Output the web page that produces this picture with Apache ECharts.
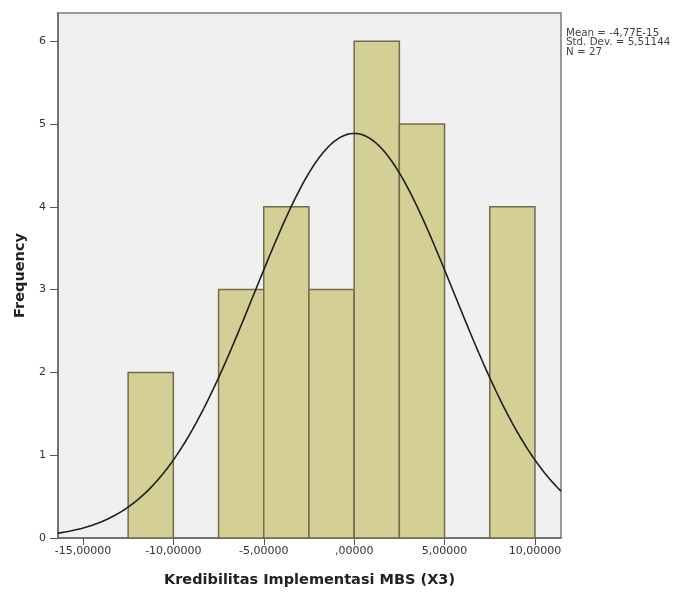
<!DOCTYPE html>
<html><head><meta charset="utf-8">
<script src="https://cdn.jsdelivr.net/npm/echarts@6/dist/echarts.min.js"></script>
<style>html,body{margin:0;padding:0;background:#fff}#c{width:684px;height:596px}</style>
</head><body><div id="c"></div>
<script>
// Histogram bins (lower edge) and their frequencies
const binStarts = [-12.5, -7.5, -5, -2.5, 0, 2.5, 7.5];
const binWidth = 2.5;
const frequencies = [2, 3, 4, 3, 6, 5, 4];
// Axis ticks
const xTickValues = [-15, -10, -5, 0, 5, 10];
const xTickLabels = ['-15,00000', '-10,00000', '-5,00000', ',00000', '5,00000', '10,00000'];
const yTickValues = [0, 1, 2, 3, 4, 5, 6];
// Summary statistics shown in the chart
const statMean = -4.77e-15;
const statSD = 5.51144;
const statN = 27;
const statLines = ['Mean = -4,77E-15', 'Std. Dev. = 5,51144', 'N = 27'];

const X_MIN = -16.38, X_MAX = 11.44, Y_MAX = 6.34;

const barData = binStarts.map((s, i) => [s, s + binWidth, frequencies[i]]);

// Fitted normal curve from the displayed mean / SD / N
const curve = [];
for (let k = 0; k <= 300; k++) {
  const x = X_MIN + (X_MAX - X_MIN) * k / 300;
  const z = (x - statMean) / statSD;
  curve.push([x, statN * binWidth * Math.exp(-0.5 * z * z) / (statSD * Math.sqrt(2 * Math.PI))]);
}

const chart = echarts.init(document.getElementById('c'), null, {renderer: 'canvas'});
const tickFont = {fontFamily: 'DejaVu Sans', fontSize: 11, color: '#333'};
chart.setOption({
  animation: false,
  backgroundColor: '#ffffff',
  grid: {left: 58, right: 123, top: 13, bottom: 58, show: true,
    backgroundColor: '#f0f0f0', borderColor: '#7a7a7a', borderWidth: 1.5},
  xAxis: {
    type: 'value', min: X_MIN, max: X_MAX,
    name: 'Kredibilitas Implementasi MBS (X3)', nameLocation: 'middle', nameGap: 35,
    nameTextStyle: {fontFamily: 'DejaVu Sans', fontWeight: 'bold', fontSize: 14.5, color: '#222'},
    axisLine: {show: true, onZero: false, lineStyle: {color: '#666', width: 1.5}},
    axisTick: {show: true, customValues: xTickValues, length: 7, lineStyle: {color: '#555'}},
    axisLabel: {customValues: xTickValues, margin: 8, ...tickFont,
      formatter: v => xTickLabels[xTickValues.indexOf(v)]},
    splitLine: {show: false}
  },
  yAxis: {
    type: 'value', min: 0, max: Y_MAX,
    name: 'Frequency', nameLocation: 'middle', nameGap: 30, nameRotate: 90,
    nameTextStyle: {fontFamily: 'DejaVu Sans', fontWeight: 'bold', fontSize: 14.5, color: '#222'},
    axisLine: {show: true, onZero: false, lineStyle: {color: '#666', width: 1.5}},
    axisTick: {show: true, customValues: yTickValues, length: 8, lineStyle: {color: '#555'}},
    axisLabel: {customValues: yTickValues, margin: 12, ...tickFont},
    splitLine: {show: false}
  },
  series: [
    {
      type: 'custom',
      data: barData,
      encode: {x: [0, 1], y: 2},
      renderItem: (params, api) => {
        const p0 = api.coord([api.value(0), api.value(2)]);
        const p1 = api.coord([api.value(1), 0]);
        return {
          type: 'rect',
          shape: {x: p0[0], y: p0[1], width: p1[0] - p0[0], height: p1[1] - p0[1]},
          style: {fill: '#d3cf95', stroke: '#6f6d4c', lineWidth: 1.5}
        };
      },
      z: 2
    },
    {
      type: 'line', data: curve, showSymbol: false, smooth: false,
      lineStyle: {color: '#1e1e1e', width: 1.6}, z: 3,
      clip: true
    }
  ],
  graphic: statLines.map((t, i) => ({
    type: 'text', left: 566, top: 28 + i * 9.5,
    style: {text: t, fontFamily: 'DejaVu Sans', fontSize: 10.3, fill: '#444'}
  }))
});
</script></body></html>
